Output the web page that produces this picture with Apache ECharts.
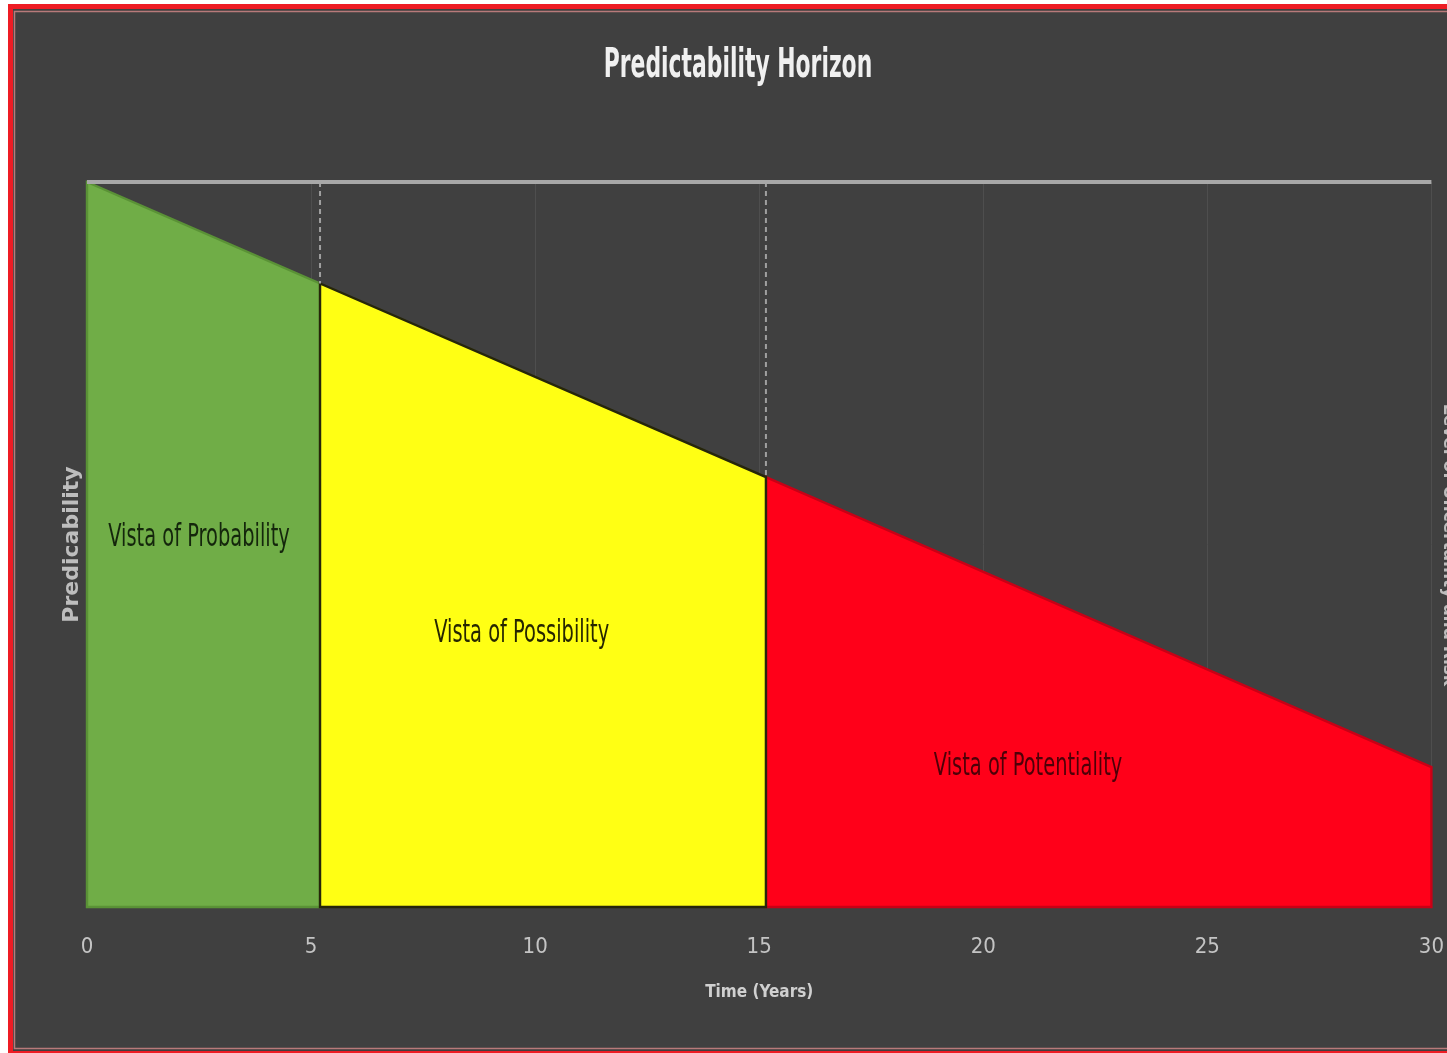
<!DOCTYPE html>
<html>
<head>
<meta charset="utf-8">
<script src="https://cdn.jsdelivr.net/npm/echarts@6/dist/echarts.min.js"></script>
<style>
  html, body { margin: 0; padding: 0; background: #ffffff; }
  #chart { width: 1447px; height: 1053px; }
</style>
</head>
<body>
<div id="chart"></div>
<script>
// Time axis and the three vistas along the predictability slope
const tickYears = [0, 5, 10, 15, 20, 25, 30];
const zoneNames = ['Vista of Probability', 'Vista of Possibility', 'Vista of Potentiality'];
const zoneStart = [0, 5.2, 15.15];      // years
const zoneEnd = [5.2, 15.15, 30];       // years
const predStart = [100, 86, 59.3];      // predictability at zone start
const predEnd = [86, 59.3, 19.3];       // predictability at zone end
const horizonTop = 100;                 // full predictability
const labelX = [2.5, 9.7, 21];
const labelY = [51, 37.7, 19.4];

const zoneFill = ['#70ad47', '#ffff14', '#ff0019'];
const zoneStroke = ['#5a9236', '#26260a', '#c90016'];
const zoneText = ['#14260c', '#262600', '#4d0008'];
const narrow = '"Liberation Sans Narrow", "Arial Narrow", "DejaVu Sans Condensed", sans-serif';

const zoneData = zoneNames.map((n, i) => [zoneStart[i], zoneEnd[i], predStart[i], predEnd[i]]);

const chart = echarts.init(document.getElementById('chart'), null, { renderer: 'canvas' });

const option = {
  backgroundColor: '#ffffff',
  animation: false,
  grid: { left: 87, right: 14, top: 182, bottom: 146 },
  xAxis: {
    type: 'value',
    min: 0, max: 30, interval: 5,
    name: 'Time (Years)',
    nameLocation: 'middle',
    nameGap: 77,
    nameTextStyle: { color: '#d0d0d0', fontSize: 17, fontWeight: 'bold', fontFamily: narrow },
    axisLine: { show: false },
    axisTick: { show: false },
    axisLabel: {
      color: '#c4c4c4', fontSize: 22, margin: 29, fontFamily: narrow,
      formatter: v => (tickYears.indexOf(v) >= 0 ? String(v) : '')
    },
    splitLine: { show: true, lineStyle: { color: '#4e4e4e', width: 1 } }
  },
  yAxis: {
    type: 'value',
    min: 0, max: 100,
    name: 'Predicability',
    nameLocation: 'middle',
    nameGap: 4,
    nameTextStyle: { color: '#bdbdbd', fontSize: 22, fontWeight: 'bold', fontFamily: '"DejaVu Sans", sans-serif' },
    axisLine: { show: false },
    axisTick: { show: false },
    axisLabel: { show: false },
    splitLine: { show: false }
  },
  graphic: [
    {
      type: 'rect', z: -10, silent: true,
      shape: { x: 10.5, y: 6.5, width: 1460, height: 1047 },
      style: { fill: '#404040', stroke: '#ee1c24', lineWidth: 5 }
    },
    {
      type: 'rect', z: -9, silent: true,
      shape: { x: 14.5, y: 11.5, width: 1460, height: 1037 },
      style: { fill: null, stroke: '#b87a7a', lineWidth: 1.5 }
    },
    {
      type: 'text', z: 10, silent: true,
      x: 738, y: 66, scaleX: 0.76, scaleY: 1.3,
      style: {
        text: 'Predictability Horizon', x: 0, y: 0,
        align: 'center', verticalAlign: 'middle',
        fill: '#f0f0f0', fontSize: 32, fontWeight: 'bold', fontFamily: narrow
      }
    },
    {
      type: 'text', z: 10, silent: true,
      x: 1448, y: 545, rotation: -Math.PI / 2,
      style: {
        text: 'Level of Uncertainty and Risk', x: 0, y: 0,
        align: 'center', verticalAlign: 'middle',
        fill: '#bdbdbd', fontSize: 17, fontWeight: 'bold', fontFamily: '"DejaVu Sans", sans-serif'
      }
    }
  ],
  series: [
    {
      name: 'Vistas',
      type: 'custom',
      data: zoneData,
      z: 2,
      renderItem: function (params, api) {
        const i = params.dataIndex;
        const x0 = api.value(0), x1 = api.value(1), y0 = api.value(2), y1 = api.value(3);
        const pts = [api.coord([x0, 0]), api.coord([x0, y0]), api.coord([x1, y1]), api.coord([x1, 0])];
        return {
          type: 'polygon',
          z2: i === 1 ? 3 : 1,
          shape: { points: pts },
          style: { fill: zoneFill[i], stroke: zoneStroke[i], lineWidth: 2.4, lineJoin: 'miter' }
        };
      }
    },
    {
      name: 'Horizon',
      type: 'line',
      z: 4,
      symbol: 'none',
      data: [[tickYears[0], horizonTop], [tickYears[tickYears.length - 1], horizonTop]],
      lineStyle: { color: '#a8a8a8', width: 4 }
    },
    {
      name: 'Boundary 1',
      type: 'line',
      z: 3,
      symbol: 'none',
      data: [[zoneStart[1], horizonTop], [zoneStart[1], predStart[1]]],
      lineStyle: { color: '#a0a0a0', width: 2, type: [5, 4] }
    },
    {
      name: 'Boundary 2',
      type: 'line',
      z: 3,
      symbol: 'none',
      data: [[zoneStart[2], horizonTop], [zoneStart[2], predStart[2]]],
      lineStyle: { color: '#a0a0a0', width: 2, type: [5, 4] }
    }
  ]
};

chart.setOption(option);

// Vista captions, placed through the chart's own coordinate system
const captions = zoneNames.map((name, i) => {
  const p = chart.convertToPixel({ xAxisIndex: 0, yAxisIndex: 0 }, [labelX[i], labelY[i]]);
  return {
    type: 'text', z: 10, silent: true,
    x: p[0], y: p[1], scaleX: 0.8, scaleY: 1.2,
    style: {
      text: name, x: 0, y: 0, align: 'center', verticalAlign: 'middle',
      fill: zoneText[i], fontSize: 27, fontFamily: narrow
    }
  };
});
chart.setOption({ graphic: option.graphic.concat(captions) });
</script>
</body>
</html>
